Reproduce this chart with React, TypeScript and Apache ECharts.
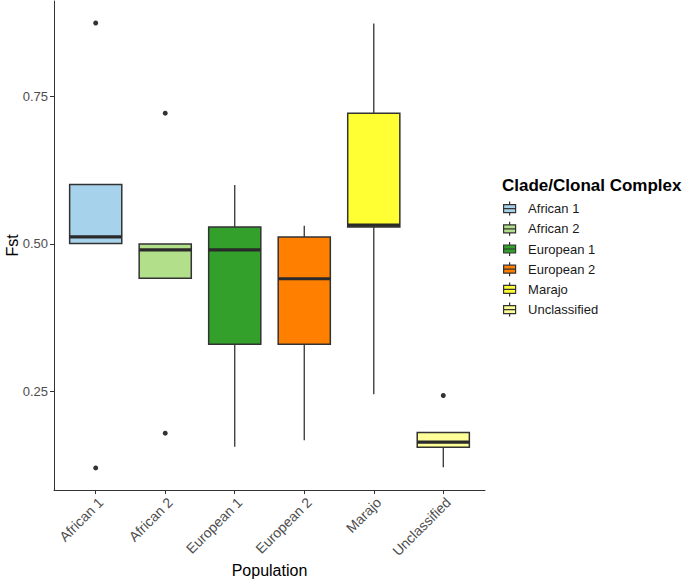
import React, { useEffect, useRef } from "react";
import * as echarts from "echarts";

const categories = ["African 1", "African 2", "European 1", "European 2", "Marajo", "Unclassified"];
const lowWhisker = [0.501, 0.442, 0.156, 0.167, 0.245, 0.121];
const q1 = [0.501, 0.442, 0.33, 0.33, 0.529, 0.155];
const median = [0.512, 0.49, 0.49, 0.441, 0.532, 0.164];
const q3 = [0.601, 0.5, 0.529, 0.512, 0.722, 0.18];
const highWhisker = [0.601, 0.5, 0.6, 0.531, 0.874, 0.18];
const outliers: [number, number][] = [
  [1, 0.875],
  [1, 0.12],
  [2, 0.722],
  [2, 0.179],
  [6, 0.243],
];
const colors = ["#A6D2EB", "#B2DF8A", "#33A02C", "#FF7F00", "#FFFF33", "#FFFF99"];
const yTicks = [0.25, 0.5, 0.75];

const BOX_WIDTH = 0.75;
const FONT = "'Liberation Sans', Arial, sans-serif";

const renderBox = (params: any, api: any) => {
  const x = api.value(0);
  const low = api.value(1);
  const a = api.value(2);
  const med = api.value(3);
  const b = api.value(4);
  const high = api.value(5);
  const halfW = api.size([BOX_WIDTH, 0])[0] / 2;
  const pLow = api.coord([x, low]);
  const pQ1 = api.coord([x, a]);
  const pMed = api.coord([x, med]);
  const pQ3 = api.coord([x, b]);
  const pHigh = api.coord([x, high]);
  const cx = pMed[0];
  const stroke = "#333333";
  return {
    type: "group",
    children: [
      { type: "line", shape: { x1: cx, y1: pHigh[1], x2: cx, y2: pQ3[1] }, style: { stroke, lineWidth: 1.3 } },
      { type: "line", shape: { x1: cx, y1: pQ1[1], x2: cx, y2: pLow[1] }, style: { stroke, lineWidth: 1.3 } },
      {
        type: "rect",
        shape: { x: cx - halfW, y: pQ3[1], width: 2 * halfW, height: pQ1[1] - pQ3[1] },
        style: { fill: api.visual("color"), stroke, lineWidth: 1.5 },
      },
      {
        type: "line",
        shape: { x1: cx - halfW, y1: pMed[1], x2: cx + halfW, y2: pMed[1] },
        style: { stroke: "#2a2a2a", lineWidth: 3.2 },
      },
    ],
  };
};

export default function App() {
  const ref = useRef<HTMLDivElement>(null);
  useEffect(() => {
    if (!ref.current) return;
    const chart = echarts.init(ref.current, undefined, { renderer: "svg" });
    const boxSeries = categories.map((name, i) => ({
      type: "custom",
      name,
      renderItem: renderBox,
      itemStyle: { color: colors[i], borderColor: "#333333", borderWidth: 1 },
      encode: { x: 0, y: [1, 2, 3, 4, 5] },
      data: [[i + 1, lowWhisker[i], q1[i], median[i], q3[i], highWhisker[i]]],
      z: 2,
    }));
    chart.setOption({
      animation: false,
      backgroundColor: "#ffffff",
      textStyle: { fontFamily: FONT },
      title: {
        text: "Clade/Clonal Complex",
        left: 502,
        top: 177,
        padding: 0,
        textStyle: { fontFamily: FONT, fontSize: 17, fontWeight: "bold", color: "#000000" },
      },
      legend: {
        data: categories,
        orient: "vertical",
        left: 503,
        top: 201,
        padding: 0,
        itemWidth: 13,
        itemHeight: 14,
        itemGap: 5,
        icon: "path://M6,0V3M0,3H12V11H0ZM0,7H12M6,11V14",
        itemStyle: { borderColor: "#333333", borderWidth: 1.2 },
        textStyle: { fontFamily: FONT, fontSize: 13, color: "#1a1a1a", padding: [0, 0, 0, 7] },
        selectedMode: false,
      },
      grid: { left: 54, right: 200, top: 1, bottom: 93, containLabel: false, outerBoundsMode: "none" },
      xAxis: {
        type: "value",
        min: 0.4,
        max: 6.6,
        name: "Population",
        nameLocation: "middle",
        nameGap: 72,
        nameMoveOverlap: false,
        nameTextStyle: { fontFamily: FONT, fontSize: 16, color: "#000000" },
        axisLine: { show: true, lineStyle: { color: "#333333", width: 1 } },
        axisTick: { show: true, length: 4, customValues: [1, 2, 3, 4, 5, 6], lineStyle: { color: "#333333" } },
        axisLabel: {
          customValues: [1, 2, 3, 4, 5, 6],
          rotate: 45,
          margin: 5,
          verticalAlign: "top",
          fontFamily: FONT,
          fontSize: 14,
          color: "#4d4d4d",
          formatter: (v: number) => categories[Math.round(v) - 1] ?? "",
        },
        splitLine: { show: false },
      },
      yAxis: {
        type: "value",
        min: 0.0826,
        max: 0.9123,
        name: "Fst",
        nameLocation: "middle",
        nameGap: 34,
        nameMoveOverlap: false,
        nameTextStyle: { fontFamily: FONT, fontSize: 16, color: "#000000" },
        axisLine: { show: true, lineStyle: { color: "#333333", width: 1 } },
        axisTick: { show: true, length: 4, customValues: yTicks, lineStyle: { color: "#333333" } },
        axisLabel: {
          customValues: yTicks,
          margin: 6,
          fontFamily: FONT,
          fontSize: 13,
          color: "#4d4d4d",
          formatter: (v: number) => v.toFixed(2),
        },
        splitLine: { show: false },
      },
      series: [
        ...boxSeries,
        {
          type: "scatter",
          name: "outliers",
          data: outliers,
          symbolSize: 5,
          itemStyle: { color: "#000000" },
          z: 3,
        },
      ],
    });
    return () => chart.dispose();
  }, []);
  return <div ref={ref} style={{ position: "fixed", left: 0, top: 0, width: 685, height: 583 }} />;
}
